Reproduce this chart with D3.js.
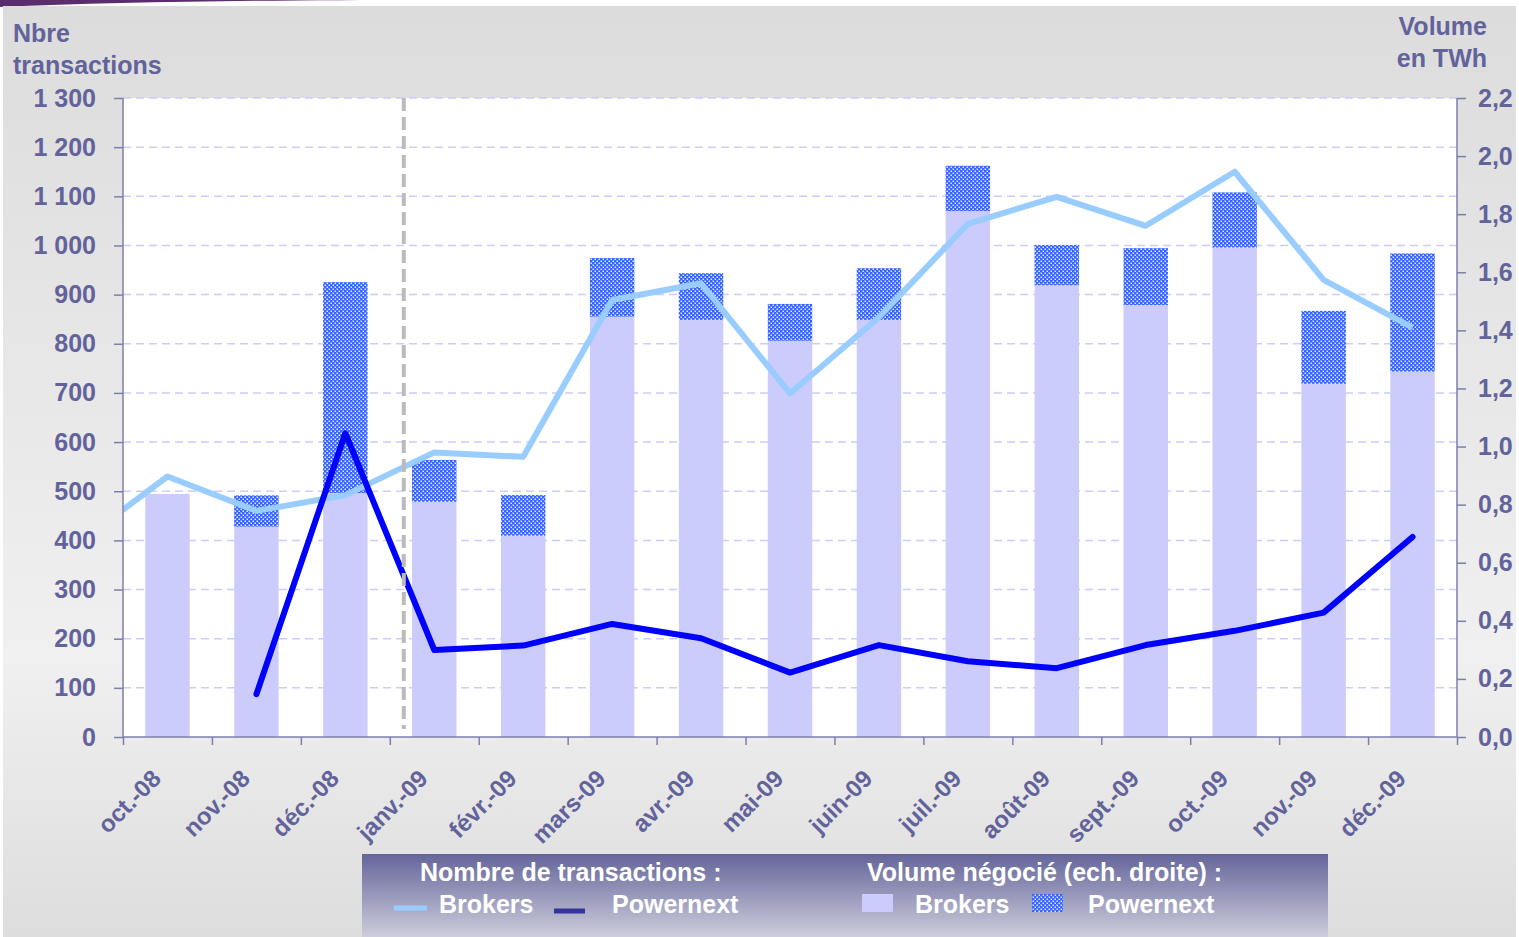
<!DOCTYPE html>
<html lang="fr">
<head>
    <meta charset="UTF-8"/>
    <title>transactions</title>
    <script src="https://d3js.org/d3.v7.min.js"></script>
    <style type="text/css">
        body { margin: 0; background: #fff; }
        text {
            font-family: "Liberation Sans", Arial, sans-serif;
            font-weight: bold;
        }
        .axis path, .axis line {
            fill: none;
            stroke: #7e7eaa;
            stroke-width: 1.5px;
        }
        .axis text {
            fill: #62639b;
            font-size: 25px;
        }
    </style>
</head>
<body>
<svg id="main"></svg>
<script>

// months on the x axis
var months = ["oct.-08", "nov.-08", "déc.-08", "janv.-09", "févr.-09", "mars-09", "avr.-09",
    "mai-09", "juin-09", "juil.-09", "août-09", "sept.-09", "oct.-09", "nov.-09", "déc.-09"]

// number of transactions (left axis)
var brokersTxPrev = 395   // sept.-08, only the start of the line shows
var brokersTx = [530, 460, 492, 579, 570, 889, 923, 699, 854, 1044, 1099, 1040, 1150, 930, 833]
var powernextTx = [null, 87, 618, 177, 186, 230, 201, 131, 187, 154, 140, 187, 216, 253, 407]

// traded volume in TWh (right axis)
var brokersVol = [0.837, 0.724, 0.840, 0.810, 0.693, 1.447, 1.436, 1.364, 1.436, 1.811, 1.555, 1.487, 1.685, 1.216, 1.258]
var powernextVol = [0, 0.108, 0.726, 0.144, 0.140, 0.202, 0.161, 0.127, 0.178, 0.156, 0.139, 0.196, 0.190, 0.251, 0.407]

// tick labels
var leftTicks = [0, 100, 200, 300, 400, 500, 600, 700, 800, 900, 1000, 1100, 1200, 1300]
var rightTicks = [0, 0.2, 0.4, 0.6, 0.8, 1.0, 1.2, 1.4, 1.6, 1.8, 2.0, 2.2]

var width = 1519,
    height = 937
var pLeft = 123, pRight = 1457, pTop = 98, pBottom = 737

var fr = d3.formatLocale({decimal: ",", thousands: " ", grouping: [3], currency: ["", " €"]})

var svg = d3.select("#main")
    .attr("width", width)
    .attr("height", height)

var defs = svg.append("defs")

var bg = defs.append("linearGradient").attr("id", "bg")
    .attr("x1", 0).attr("y1", 0).attr("x2", 0).attr("y2", 1)
bg.append("stop").attr("offset", "0%").attr("stop-color", "#dcdcdc")
bg.append("stop").attr("offset", "70%").attr("stop-color", "#f0f0f0")
bg.append("stop").attr("offset", "100%").attr("stop-color", "#dddddd")

var lg = defs.append("linearGradient").attr("id", "lg")
    .attr("x1", 0).attr("y1", 0).attr("x2", 0).attr("y2", 1)
lg.append("stop").attr("offset", "0%").attr("stop-color", "#64659a")
lg.append("stop").attr("offset", "100%").attr("stop-color", "#cdcddc")

var dots = defs.append("pattern").attr("id", "dots")
    .attr("patternUnits", "userSpaceOnUse").attr("width", 4).attr("height", 4)
dots.append("rect").attr("width", 4).attr("height", 4).attr("fill", "#3366ff")
dots.append("rect").attr("x", 0.5).attr("y", 0.5).attr("width", 1.5).attr("height", 1.5).attr("fill", "#e6ecff")
dots.append("rect").attr("x", 2.5).attr("y", 2.5).attr("width", 1.5).attr("height", 1.5).attr("fill", "#e6ecff")

defs.append("clipPath").attr("id", "plotclip")
    .append("rect").attr("x", pLeft).attr("y", pTop).attr("width", pRight - pLeft).attr("height", pBottom - pTop)

// slide background
svg.append("path")
    .attr("d", "M0,7 C120,2 260,0 430,0 L0,0 Z")
    .attr("fill", "#5c2d6e")
svg.append("rect")
    .attr("x", 3).attr("y", 6).attr("width", 1513).attr("height", 931)
    .attr("fill", "url(#bg)")
svg.append("rect")
    .attr("x", pLeft).attr("y", pTop).attr("width", pRight - pLeft).attr("height", pBottom - pTop)
    .attr("fill", "#fff")

// scales
var x = d3.scaleBand()
    .domain(months)
    .range([pLeft, pRight])
    .paddingInner(0.5)
    .paddingOuter(0.25)
var xi = d3.scaleLinear().domain([0, months.length]).range([pLeft, pRight])
var yL = d3.scaleLinear().domain([0, 1300]).range([pBottom, pTop])
var yR = d3.scaleLinear().domain([0, 2.2]).range([pBottom, pTop])

function cx(d, i) { return x(months[i]) + x.bandwidth() / 2 }

// gridlines
svg.selectAll("grid")
    .data(leftTicks.slice(1))
    .enter()
    .append("line")
    .attr("x1", pLeft).attr("x2", pRight)
    .attr("y1", function(d) { return yL(d) })
    .attr("y2", function(d) { return yL(d) })
    .attr("stroke", "#ccccff")
    .attr("stroke-width", 1.5)
    .attr("stroke-dasharray", "8,5")

// bars : brokers then powernext on top
svg.selectAll("barBrokers")
    .data(brokersVol)
    .enter()
    .append("rect")
    .attr("x", function(d, i) { return x(months[i]) })
    .attr("width", x.bandwidth())
    .attr("y", function(d) { return yR(d) })
    .attr("height", function(d) { return pBottom - yR(d) })
    .attr("fill", "#ccccfc")

svg.selectAll("barPowernext")
    .data(powernextVol)
    .enter()
    .append("rect")
    .attr("x", function(d, i) { return x(months[i]) })
    .attr("width", x.bandwidth())
    .attr("y", function(d, i) { return yR(brokersVol[i] + d) })
    .attr("height", function(d, i) { return yR(brokersVol[i]) - yR(brokersVol[i] + d) })
    .attr("fill", "url(#dots)")

// lines
var brokersPts = [[x(months[0]) + x.bandwidth() / 2 - x.step(), yL(brokersTxPrev)]]
brokersTx.forEach(function(d, i) { brokersPts.push([cx(d, i), yL(d)]) })

var powernextPts = []
powernextTx.forEach(function(d, i) { if (d != null) powernextPts.push([cx(d, i), yL(d)]) })

var line = d3.line()

var lines = svg.append("g").attr("clip-path", "url(#plotclip)")
lines.append("path")
    .attr("d", line(brokersPts))
    .attr("fill", "none")
    .attr("stroke", "#99ccff")
    .attr("stroke-width", 6)
    .attr("stroke-linejoin", "round")
lines.append("path")
    .attr("d", line(powernextPts))
    .attr("fill", "none")
    .attr("stroke", "#0000ff")
    .attr("stroke-width", 6)
    .attr("stroke-linejoin", "round")
    .attr("stroke-linecap", "round")

// separator between 2008 and 2009
svg.append("line")
    .attr("x1", xi(3) + 14).attr("x2", xi(3) + 14)
    .attr("y1", pTop).attr("y2", pBottom - 8)
    .attr("stroke", "#bbbbbb")
    .attr("stroke-width", 4)
    .attr("stroke-dasharray", "13,6")

// axes
svg.append("g")
    .attr("class", "axis")
    .attr("transform", "translate(" + pLeft + ",0)")
    .call(d3.axisLeft(yL).tickValues(leftTicks).tickSize(9).tickPadding(18).tickFormat(fr.format(",")))
    .call(function(g) { g.select(".domain").attr("d", "M0," + pTop + "V" + pBottom) })

svg.append("g")
    .attr("class", "axis")
    .attr("transform", "translate(" + pRight + ",0)")
    .call(d3.axisRight(yR).tickValues(rightTicks).tickSize(9).tickPadding(12).tickFormat(fr.format(".1f")))
    .call(function(g) { g.select(".domain").attr("d", "M0," + pTop + "V" + pBottom) })

svg.append("g")
    .attr("class", "axis")
    .attr("transform", "translate(0," + pBottom + ")")
    .call(d3.axisBottom(xi).tickValues(d3.range(months.length + 1)).tickSize(8).tickFormat(""))
    .call(function(g) { g.select(".domain").attr("d", "M" + pLeft + ",0H" + pRight) })

// month labels
svg.selectAll("monthLabels")
    .data(months)
    .enter()
    .append("text")
    .text(function(d) { return d })
    .attr("transform", function(d, i) { return "translate(" + (cx(d, i) - 5) + "," + (pBottom + 43) + ") rotate(-45)" })
    .style("text-anchor", "end")
    .style("font-size", "24px")
    .attr("fill", "#62639b")

// axis titles
svg.append("text").attr("x", 13).attr("y", 42).text("Nbre").style("font-size", "25px").attr("fill", "#62639b")
svg.append("text").attr("x", 13).attr("y", 74).text("transactions").style("font-size", "25px").attr("fill", "#62639b")
svg.append("text").attr("x", 1487).attr("y", 35).text("Volume").style("font-size", "25px").style("text-anchor", "end").attr("fill", "#62639b")
svg.append("text").attr("x", 1487).attr("y", 67).text("en TWh").style("font-size", "25px").style("text-anchor", "end").attr("fill", "#62639b")

// legend
svg.append("rect").attr("x", 362).attr("y", 854).attr("width", 966).attr("height", 83).attr("fill", "url(#lg)")

svg.append("text").attr("x", 420).attr("y", 881).text("Nombre de transactions :").style("font-size", "25px").attr("fill", "#fff")
svg.append("text").attr("x", 867).attr("y", 881).text("Volume négocié (ech. droite) :").style("font-size", "25px").attr("fill", "#fff")

svg.append("line").attr("x1", 394).attr("x2", 427).attr("y1", 908).attr("y2", 908).attr("stroke", "#99ccff").attr("stroke-width", 5)
svg.append("text").attr("x", 439).attr("y", 913).text("Brokers").style("font-size", "25px").attr("fill", "#fff")
svg.append("line").attr("x1", 554).attr("x2", 585).attr("y1", 911).attr("y2", 911).attr("stroke", "#333399").attr("stroke-width", 5)
svg.append("text").attr("x", 612).attr("y", 913).text("Powernext").style("font-size", "25px").attr("fill", "#fff")
svg.append("rect").attr("x", 862).attr("y", 894).attr("width", 31).attr("height", 18).attr("fill", "#ccccfc")
svg.append("text").attr("x", 915).attr("y", 913).text("Brokers").style("font-size", "25px").attr("fill", "#fff")
svg.append("rect").attr("x", 1032).attr("y", 894).attr("width", 31).attr("height", 18).attr("fill", "url(#dots)")
svg.append("text").attr("x", 1088).attr("y", 913).text("Powernext").style("font-size", "25px").attr("fill", "#fff")

</script>
</body>
</html>
